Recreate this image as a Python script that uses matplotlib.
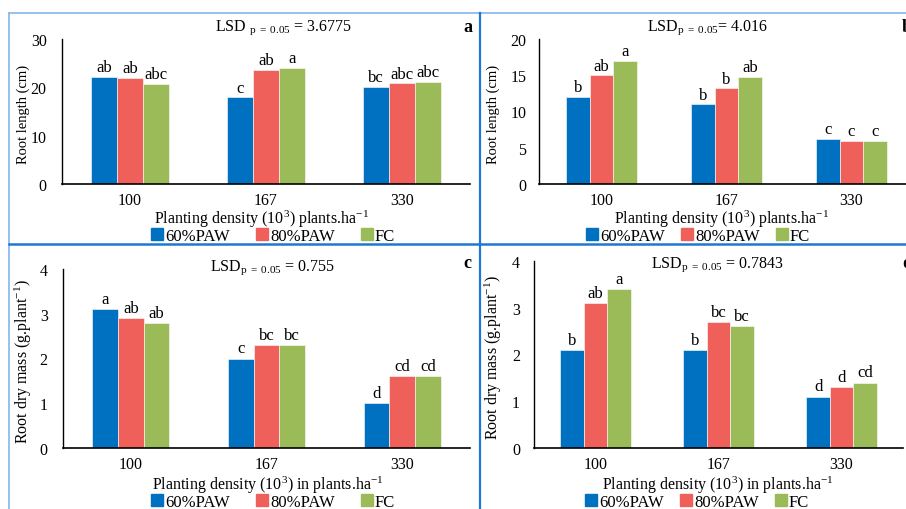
import matplotlib
matplotlib.use("Agg")
import matplotlib.pyplot as plt
from matplotlib.lines import Line2D
import numpy as np

plt.rcParams['font.family'] = ['Liberation Serif', 'DejaVu Serif']
plt.rcParams['mathtext.fontset'] = 'custom'
plt.rcParams['mathtext.rm'] = 'Liberation Serif'
plt.rcParams['mathtext.it'] = 'Liberation Serif:italic'
plt.rcParams['mathtext.bf'] = 'Liberation Serif:bold'

categories = ["100", "167", "330"]
series = ["60%PAW", "80%PAW", "FC"]
colors = ["#0070C0", "#F0605A", "#9BBB59"]

# Panel a: Root length (cm)
a_vals = [[22.2, 17.9, 20.1], [21.9, 23.6, 20.8], [20.7, 24.1, 21.2]]
a_letters = [["ab", "c", "bc"], ["ab", "ab", "abc"], ["abc", "a", "abc"]]
# Panel b: Root length (cm)
b_vals = [[12.0, 11.0, 6.25], [15.0, 13.2, 5.9], [17.0, 14.8, 5.9]]
b_letters = [["b", "b", "c"], ["ab", "b", "c"], ["a", "ab", "c"]]
# Panel c: Root dry mass
c_vals = [[3.1, 2.0, 1.0], [2.9, 2.3, 1.6], [2.8, 2.3, 1.6]]
c_letters = [["a", "c", "d"], ["ab", "bc", "cd"], ["ab", "bc", "cd"]]
# Panel d: Root dry mass
d_vals = [[2.1, 2.1, 1.1], [3.1, 2.7, 1.3], [3.4, 2.6, 1.4]]
d_letters = [["b", "b", "d"], ["ab", "bc", "d"], ["a", "bc", "cd"]]

W, H = 906, 510
fig = plt.figure(figsize=(W / 100, H / 100), dpi=100)


def fx(x):
    return x / W


def fy(y):
    return 1 - y / H


def make_panel(l, r, b, t, vals, letters, ymax, ystep, ylabel, ylsize, ylx,
               xlabel, lsd, lsd_xy, xl_xy, leg_xy, colsp, letter, letter_xy,
               ypad):
    ax = fig.add_axes([fx(l), fy(b), fx(r - l), (b - t) / H])
    x = np.arange(len(categories))
    w = 0.19
    for i, s in enumerate(series):
        pos = x + (i - 1) * w
        ax.bar(pos, vals[i], w, color=colors[i], label=s, edgecolor='white',
               linewidth=0.4)
        for px, v, lt in zip(pos, vals[i], letters[i]):
            ax.text(px, v + ymax * 0.012, lt, ha='center', va='bottom',
                    fontsize=12)
    ax.set_xlim(-0.5, 2.5)
    ax.set_ylim(0, ymax)
    ax.set_yticks(np.arange(0, ymax + 0.001, ystep))
    ax.set_xticks(x)
    ax.set_xticklabels(categories)
    ax.tick_params(length=0, labelsize=11.5)
    ax.tick_params(axis='y', pad=ypad)
    ax.tick_params(axis='x', pad=6)
    for sp in ['top', 'right']:
        ax.spines[sp].set_visible(False)
    ax.spines['left'].set_linewidth(1.0)
    ax.spines['bottom'].set_linewidth(1.2)
    fig.text(fx(ylx), fy((t + b) / 2 + 2), ylabel, rotation=90, ha='center',
             va='center', fontsize=ylsize)
    fig.text(fx(xl_xy[0]), fy(xl_xy[1]), xlabel, ha='center', va='center',
             fontsize=11.5)
    fig.text(fx(lsd_xy[0]), fy(lsd_xy[1]), lsd, ha='center', va='center',
             fontsize=11.5)
    fig.text(fx(letter_xy[0]), fy(letter_xy[1]), letter, ha='left',
             va='center', fontsize=13, fontweight='bold')
    handles = [Line2D([], [], marker='s', linestyle='none', color=c,
                      markersize=8) for c in colors]
    fig.legend(handles, series, loc='center', ncol=3,
               bbox_to_anchor=(fx(leg_xy[0]), fy(leg_xy[1])),
               frameon=False, fontsize=12, handletextpad=0.0,
               columnspacing=colsp, handlelength=1.0, borderpad=0)
    return ax


lsd_sub = r"$_{\mathregular{p\ =\ 0.05}}$"
xl1 = r"Planting density (10$^{\mathregular{3}}$) plants.ha$^{\mathregular{-1}}$"
xl2 = r"Planting density (10$^{\mathregular{3}}$) in plants.ha$^{\mathregular{-1}}$"
yl2 = r"Root dry mass (g.plant$^{\mathregular{-1}}$)"

make_panel(62, 470, 185, 40, a_vals, a_letters, 30, 10, "Root length (cm)",
           10.5, 23, xl1, "LSD " + lsd_sub + " = 3.6775", (284, 28),
           (262, 219), (272, 237), 1.4, "a", (463, 28), 11)
make_panel(539, 914, 185, 40, b_vals, b_letters, 20, 5, "Root length (cm)",
           10.5, 493, xl1, "LSD" + lsd_sub + "= 4.016", (708, 28),
           (722, 219), (697, 237), 0.8, "b", (902, 28), 9)
make_panel(63, 470, 449, 270, c_vals, c_letters, 4, 1, yl2, 11.5, 23, xl2,
           "LSD" + lsd_sub + " = 0.755", (273, 268), (268, 485), (272, 503),
           1.4, "c", (463, 263), 11)
make_panel(534, 903, 449, 262, d_vals, d_letters, 4, 1, yl2, 11.5, 493, xl2,
           "LSD" + lsd_sub + " = 0.7843", (718, 265), (718, 485), (696, 503),
           0.8, "d", (902, 263), 10)

# panel frame lines
light = "#8DBBEA"
strong = "#1E78D2"
fig.add_artist(Line2D([fx(9), fx(906)], [fy(14), fy(14)], color=light, lw=1.3))
fig.add_artist(Line2D([fx(9), fx(9)], [fy(14), fy(510)], color=light, lw=1.3))
fig.add_artist(Line2D([fx(480), fx(480)], [fy(14), fy(510)], color=strong, lw=1.6))
fig.add_artist(Line2D([fx(9), fx(906)], [fy(245), fy(245)], color=strong, lw=1.8))

fig.savefig("out.png", dpi=100)
